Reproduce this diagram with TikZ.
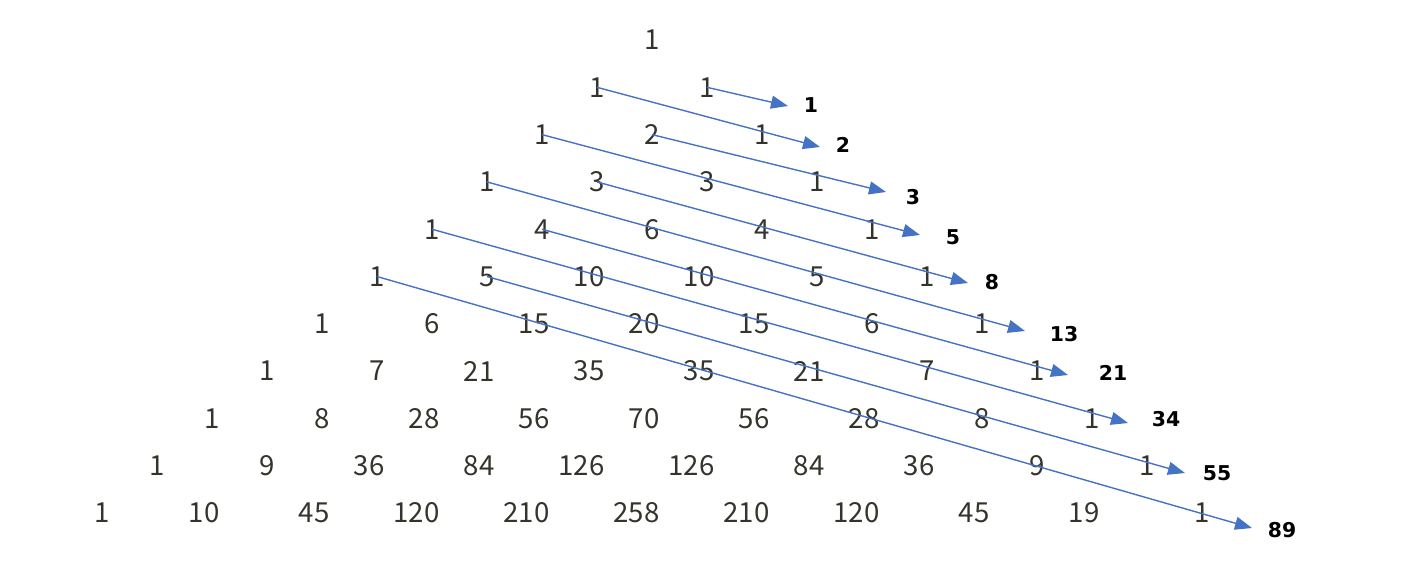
\documentclass[tikz,border=0pt]{standalone}
\usepackage{fontspec}
\usetikzlibrary{arrows.meta}
\newfontfamily\numfont{Noto Sans CJK JP}
\newfontfamily\labfont{DejaVu Sans}
\definecolor{numcol}{RGB}{52,52,44}
\definecolor{arrcol}{RGB}{68,114,196}
\tikzset{
  num/.style={inner sep=0pt, anchor=east, text=numcol, font=\numfont\fontsize{13.8}{16}\selectfont},
  lab/.style={inner sep=0pt, text=black, font=\labfont\bfseries\fontsize{10.2}{12}\selectfont},
  arr/.style={draw=arrcol, line width=0.7pt, -{Triangle[length=8.5pt,width=6.5pt]}}
}
\begin{document}
\begin{tikzpicture}[x=0.5pt,y=-0.5pt]
\useasboundingbox (0,0) rectangle (1419,585);
\foreach \r/\vals in {0/{1},1/{1,1},2/{1,2,1},3/{1,3,3,1},4/{1,4,6,4,1},5/{1,5,10,10,5,1},6/{1,6,15,20,15,6,1},7/{1,7,21,35,35,21,7,1},8/{1,8,28,56,70,56,28,8,1},9/{1,9,36,84,126,126,84,36,9,1},10/{1,10,45,120,210,258,210,120,45,19,1}}{
  \foreach \v [count=\k from 0] in \vals {
    \node[num] (n\r-\k) at ({651-55*\r+110*\k+9},{40+47.3*\r}) {\v};
  }
}
% Fibonacci labels and arrow tips
\node[lab] (f1) at (811,105) {1};
\node[lab] (f2) at (843,145) {2};
\node[lab] (f3) at (913,197) {3};
\node[lab] (f5) at (953,237) {5};
\node[lab] (f8) at (992,282) {8};
\node[lab] (f13) at (1064,334) {13};
\node[lab] (f21) at (1113,373) {21};
\node[lab] (f34) at (1166,419) {34};
\node[lab] (f55) at (1217,473) {55};
\node[lab] (f89) at (1282,530) {89};
\coordinate (t1) at (788,106);
\coordinate (t2) at (820,147);
\coordinate (t3) at (886,192);
\coordinate (t5) at (920,235);
\coordinate (t8) at (968,283);
\coordinate (t13) at (1025,331);
\coordinate (t21) at (1068,375);
\coordinate (t34) at (1128,423);
\coordinate (t55) at (1185,473);
\coordinate (t89) at (1252,528);
\draw[arr] (n1-1.center) -- (t1);
\draw[arr] (n1-0.center) -- (t2);
\draw[arr] (n2-1.center) -- (t3);
\draw[arr] (n2-0.center) -- (t5);
\draw[arr] (n3-1.center) -- (t8);
\draw[arr] (n3-0.center) -- (t13);
\draw[arr] (n4-1.center) -- (t21);
\draw[arr] (n4-0.center) -- (t34);
\draw[arr] (n5-1.center) -- (t55);
\draw[arr] (n5-0.center) -- (t89);
\end{tikzpicture}
\end{document}
